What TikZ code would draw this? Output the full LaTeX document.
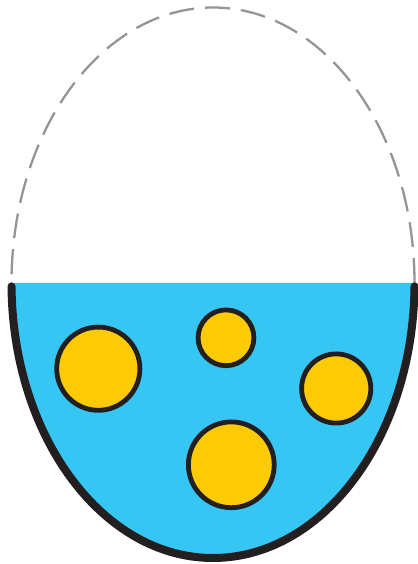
\documentclass[tikz,border=0pt]{standalone}
\usetikzlibrary{calc}
\definecolor{water}{HTML}{36C6F4}
\definecolor{ball}{HTML}{FDCB05}
\definecolor{ink}{HTML}{231F20}
\definecolor{ghost}{HTML}{939598}
\tikzset{
  ghostline/.style={draw=ghost, line width=2.3pt, dash pattern=on 25pt off 11pt},
  shell/.style={draw=ink, line width=8pt, line cap=round},
  bubble/.style={fill=ball, draw=ink, line width=4.8pt},
}
\begin{document}
\begin{tikzpicture}[x=1pt,y=1pt]
\useasboundingbox (0,0) rectangle (417,564);
% upper dashed half
\draw[ghostline] (414.5,281) arc[start angle=0, end angle=180, x radius=201.5, y radius=275.5];
% water
\fill[water] (11.5,281) arc[start angle=180, end angle=360, x radius=201.5, y radius=275] -- cycle;
% shell
\draw[shell] ($(213,281)+(180.7:201.5 and 275)$) arc[start angle=180.7, end angle=359.3, x radius=201.5, y radius=275];
% bubbles
\draw[bubble] (98.3,195.3) circle[radius=41.6];
\draw[bubble] (226,226.2) circle[radius=27.9];
\draw[bubble] (336.2,175.5) circle[radius=34.6];
\draw[bubble] (231.3,99.2) circle[radius=42.9];
\end{tikzpicture}
\end{document}
